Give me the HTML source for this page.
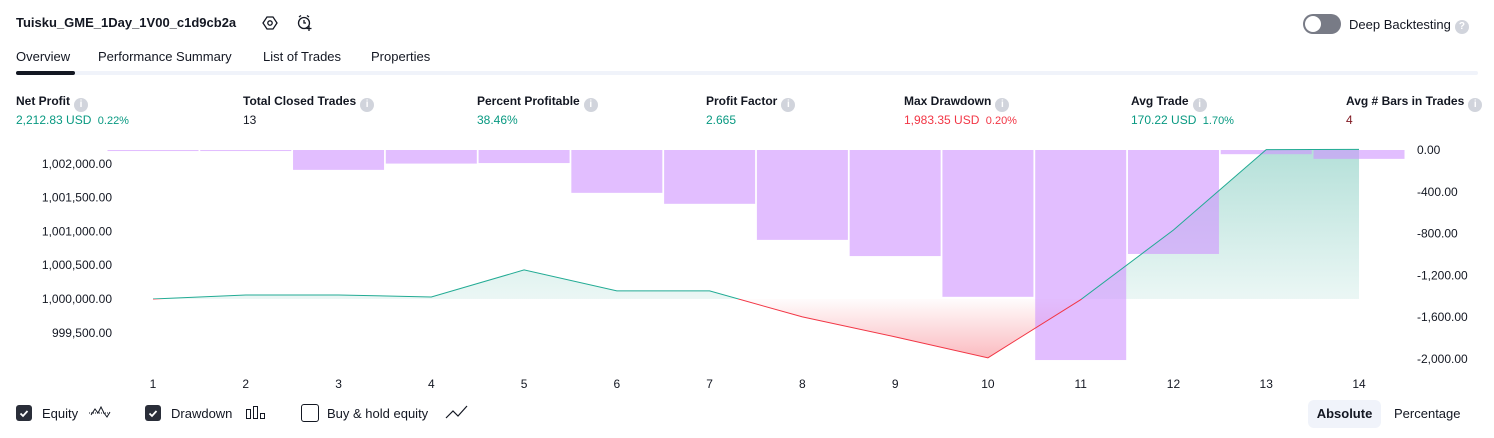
<!DOCTYPE html>
<html><head><meta charset="utf-8">
<style>
body{margin:0;width:1494px;height:438px;background:#fff;font-family:"Liberation Sans",sans-serif;color:#131722;position:relative;overflow:hidden}
.a{position:absolute;white-space:nowrap}
.lbl{font-size:12px;font-weight:bold;color:#131722}
.val{font-size:12px}
.info{display:inline-block;width:14px;height:14px;border-radius:50%;background:#d1d4dc;color:#fff;font-size:10px;text-align:center;line-height:14px;vertical-align:-2px;margin-left:4px;font-weight:bold}
.g{color:#089981}.r{color:#f23645}.dr{color:#801922}
.tab{font-size:13px;top:49px}
.cb{width:16px;height:16px;border-radius:3px;top:405px}
</style></head><body>
<div class="a" style="left:16px;top:15px;font-size:13px;font-weight:bold">Tuisku_GME_1Day_1V00_c1d9cb2a</div>
<svg class="a" style="left:262px;top:15px" width="16" height="16" viewBox="0 0 16 16"><path d="M5 2h6l4 6-4 6H5L1 8z" fill="none" stroke="#131722" stroke-width="1.3"/><circle cx="8" cy="8" r="2.2" fill="none" stroke="#131722" stroke-width="1.3"/></svg>
<svg class="a" style="left:296px;top:14px" width="18" height="18" viewBox="0 0 18 18"><circle cx="8" cy="9" r="5.5" fill="none" stroke="#131722" stroke-width="1.3"/><path d="M8 6v3h2M3 3l2-1.5M13 3l-2-1.5M13 12v5M10.5 14.5h5" stroke="#131722" stroke-width="1.3" fill="none"/></svg>
<div class="a" style="left:1303px;top:14px;width:38px;height:20px;border-radius:10px;background:#787b86"><div style="position:absolute;left:2px;top:2px;width:16px;height:16px;border-radius:50%;background:#fff"></div></div>
<div class="a" style="left:1349px;top:17px;font-size:13px">Deep Backtesting<span class="info" style="font-size:10px;vertical-align:0">?</span></div>
<div class="a tab" style="left:16px">Overview</div>
<div class="a tab" style="left:98px">Performance Summary</div>
<div class="a tab" style="left:263px">List of Trades</div>
<div class="a tab" style="left:371px">Properties</div>
<div class="a" style="left:16px;top:71px;width:1462px;height:4px;background:#f0f3fa;border-radius:2px"></div>
<div class="a" style="left:16px;top:71px;width:59px;height:4px;background:#131722;border-radius:2px"></div>

<div class="a lbl" style="left:16px;top:94px">Net Profit<span class="info">i</span></div>
<div class="a val g" style="left:16px;top:113px">2,212.83 USD <span style="font-size:11px">&nbsp;0.22%</span></div>
<div class="a lbl" style="left:243px;top:94px">Total Closed Trades<span class="info">i</span></div>
<div class="a val" style="left:243px;top:113px">13</div>
<div class="a lbl" style="left:477px;top:94px">Percent Profitable<span class="info">i</span></div>
<div class="a val g" style="left:477px;top:113px">38.46%</div>
<div class="a lbl" style="left:706px;top:94px">Profit Factor<span class="info">i</span></div>
<div class="a val g" style="left:706px;top:113px">2.665</div>
<div class="a lbl" style="left:904px;top:94px">Max Drawdown<span class="info">i</span></div>
<div class="a val r" style="left:904px;top:113px">1,983.35 USD <span style="font-size:11px">&nbsp;0.20%</span></div>
<div class="a lbl" style="left:1131px;top:94px">Avg Trade<span class="info">i</span></div>
<div class="a val g" style="left:1131px;top:113px">170.22 USD <span style="font-size:11px">&nbsp;1.70%</span></div>
<div class="a lbl" style="left:1346px;top:94px">Avg # Bars in Trades<span class="info">i</span></div>
<div class="a val dr" style="left:1346px;top:113px">4</div>

<svg class="a" id="chart" style="left:0;top:0" width="1494" height="400"></svg>

<div class="a cb" style="left:16px;background:#2a2e39"><svg width="16" height="16"><path d="M4.5 8.5l2.5 2.5 4.5-5" stroke="#fff" stroke-width="1.8" fill="none"/></svg></div>
<div class="a" style="left:42px;top:406px;font-size:13px">Equity</div>
<svg class="a" style="left:88px;top:404px" width="24" height="16"><path d="M1 9h22" stroke="#131722" stroke-dasharray="1 1"/><path d="M3 11l4-6 3 4 3-6 3 6 3 4 3-5" stroke="#131722" fill="none"/></svg>
<div class="a cb" style="left:145px;background:#2a2e39"><svg width="16" height="16"><path d="M4.5 8.5l2.5 2.5 4.5-5" stroke="#fff" stroke-width="1.8" fill="none"/></svg></div>
<div class="a" style="left:171px;top:406px;font-size:13px">Drawdown</div>
<svg class="a" style="left:246px;top:405px" width="20" height="16"><rect x="0.5" y="4.5" width="4" height="9" fill="none" stroke="#131722"/><rect x="7.5" y="1.5" width="4" height="12" fill="none" stroke="#131722"/><rect x="14.5" y="8.5" width="4" height="5" fill="none" stroke="#131722"/></svg>
<div class="a cb" style="left:301px;border:1px solid #131722;width:16px;height:16px;top:404px"></div>
<div class="a" style="left:327px;top:406px;font-size:13px">Buy &amp; hold equity</div>
<svg class="a" style="left:445px;top:404px" width="24" height="16"><path d="M1 14l7-7 5 5 9-10" stroke="#131722" fill="none" stroke-width="1.2"/></svg>
<div class="a" style="left:1308px;top:400px;width:73px;height:28px;border-radius:6px;background:#f0f3fa;font-size:13px;font-weight:bold;text-align:center;line-height:28px">Absolute</div>
<div class="a" style="left:1394px;top:406px;font-size:13px">Percentage</div>

<script>
const trades=[1,2,3,4,5,6,7,8,9,10,11,12,13,14];
const equity=[1000000,1000060,1000060,1000030,1000430,1000120,1000120,999735,999440,999130,999990,1001020,1002210,1002213];
const drawdown=[-10,-10,-190,-130,-125,-410,-515,-860,-1015,-1405,-2010,-995,-40,-85];
const leftTicks=[999500,1000000,1000500,1001000,1001500,1002000];
const rightTicks=[0,-400,-800,-1200,-1600,-2000];
const NS='http://www.w3.org/2000/svg';
const svg=document.getElementById('chart');
const xS=i=>153+(i-1)*92.77;
const yL=v=>299-(v-1000000)*0.0676;
const yR=v=>150-v*0.1045;
const base=1000000;
function mk(t,a){const e=document.createElementNS(NS,t);for(const k in a)e.setAttribute(k,a[k]);svg.appendChild(e);return e;}
const defs=mk('defs',{});
defs.innerHTML='<linearGradient id="gg" gradientUnits="userSpaceOnUse" x1="0" y1="150" x2="0" y2="300"><stop offset="0" stop-color="#089981" stop-opacity="0.3"/><stop offset="1" stop-color="#089981" stop-opacity="0.08"/></linearGradient><linearGradient id="rg" gradientUnits="userSpaceOnUse" x1="0" y1="300" x2="0" y2="360"><stop offset="0" stop-color="#f23645" stop-opacity="0.02"/><stop offset="1" stop-color="#f23645" stop-opacity="0.35"/></linearGradient><clipPath id="ca"><rect x="0" y="0" width="1494" height="'+yL(base)+'"/></clipPath><clipPath id="cb"><rect x="0" y="'+yL(base)+'" width="1494" height="200"/></clipPath>';
let d='M'+xS(1)+','+yL(base);
trades.forEach((t,i)=>d+='L'+xS(t)+','+yL(equity[i]));
d+='L'+xS(trades[trades.length-1])+','+yL(base)+'Z';
const fa=mk('path',{d:d,fill:'url(#gg)','clip-path':'url(#ca)'});


const fb=mk('path',{d:d,fill:'url(#rg)','clip-path':'url(#cb)'});


trades.forEach((t,i)=>{
  const x0=xS(t)-45.5,y0=yR(0),y1=yR(drawdown[i]);
  const r=mk('rect',{x:x0,y:y0,width:91,height:Math.max(1,y1-y0),fill:'#ce93ff','fill-opacity':'0.6'});
  
  
});
let ld='';
trades.forEach((t,i)=>ld+=(i?'L':'M')+xS(t)+','+yL(equity[i]));
const la=mk('path',{d:ld,fill:'none',stroke:'#22ab94','stroke-width':1,'clip-path':'url(#ca)'});


const lb=mk('path',{d:ld,fill:'none',stroke:'#f23645','stroke-width':1,'clip-path':'url(#cb)'});


const fmt=v=>v.toLocaleString('en-US',{minimumFractionDigits:2,maximumFractionDigits:2});
leftTicks.forEach(v=>{const t=mk('text',{x:112,y:yL(v)+4,'text-anchor':'end','font-size':12,fill:'#131722','font-family':'Liberation Sans'});t.textContent=fmt(v);

});
rightTicks.forEach(v=>{const t=mk('text',{x:1417,y:yR(v)+4,'font-size':12,fill:'#131722','font-family':'Liberation Sans'});t.textContent=fmt(v);

});
trades.forEach(tn=>{const t=mk('text',{x:xS(tn),y:388,'text-anchor':'middle','font-size':12,fill:'#131722','font-family':'Liberation Sans'});t.textContent=tn;

});
</script>
</body></html>
